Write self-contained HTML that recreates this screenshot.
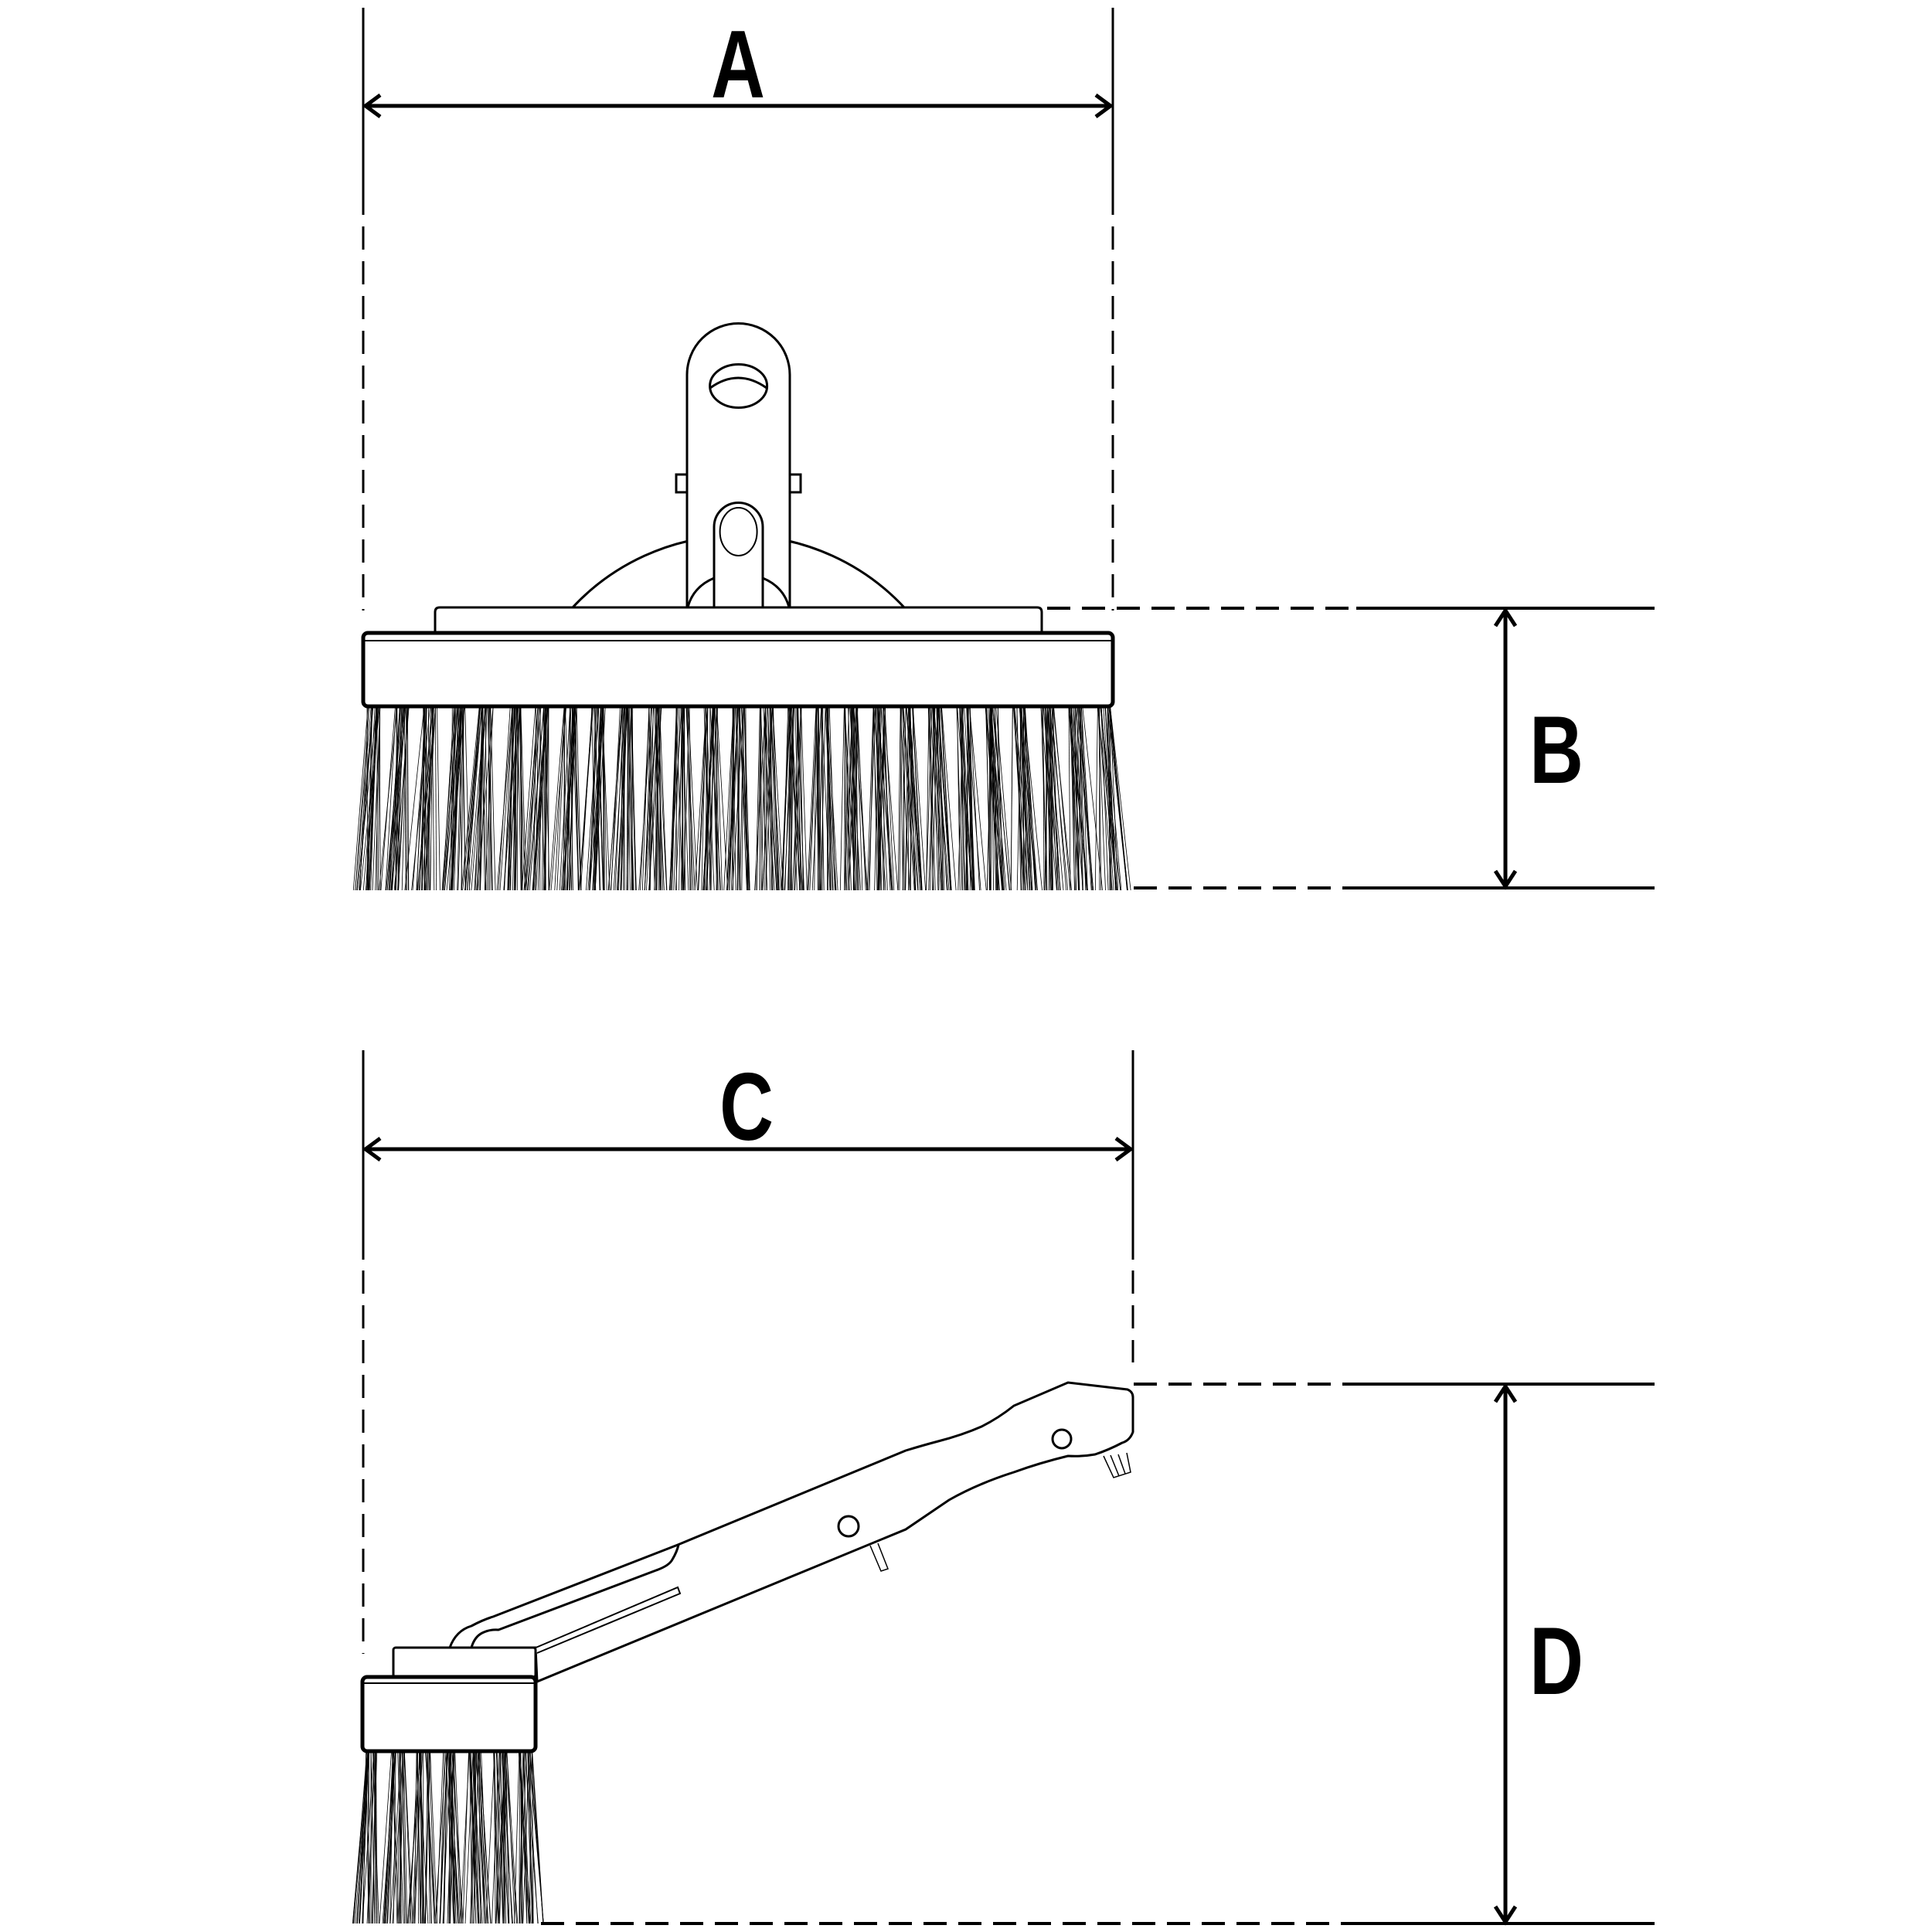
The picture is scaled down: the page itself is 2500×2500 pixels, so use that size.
<!DOCTYPE html>
<html><head><meta charset="utf-8"><style>
html,body{margin:0;padding:0;background:#fff;}
svg{display:block;}
text{font-family:"Liberation Sans",sans-serif;font-weight:bold;font-size:124px;fill:#000;}
</style></head><body>
<svg id="s" width="2500" height="2500" viewBox="0 0 2500 2500" xmlns="http://www.w3.org/2000/svg">
<g fill="none" stroke="#000" stroke-linecap="butt">
<g stroke-width="3">
<line x1="470" y1="10" x2="470" y2="278"/><line x1="470" y1="293" x2="470" y2="790" stroke-dasharray="30 15"/>
<line x1="1440" y1="10" x2="1440" y2="278"/><line x1="1440" y1="293" x2="1440" y2="790" stroke-dasharray="30 15"/>
</g>
<line x1="472" y1="137" x2="1438" y2="137" stroke-width="5"/>
<polyline points="492,123 473,137 492,151" stroke-width="5"/>
<polyline points="1418,123 1437,137 1418,151" stroke-width="5"/>
<line x1="1355" y1="787" x2="1755" y2="787" stroke-width="4" stroke-dasharray="30 15"/>
<line x1="1755" y1="787" x2="2141" y2="787" stroke-width="4"/>
<line x1="1467" y1="1149" x2="1755" y2="1149" stroke-width="4" stroke-dasharray="30 15"/>
<line x1="1755" y1="1149" x2="2141" y2="1149" stroke-width="4"/>
<line x1="1948" y1="790" x2="1948" y2="1146" stroke-width="5"/>
<polyline points="1935,810 1948,790 1961,810" stroke-width="5"/>
<polyline points="1935,1127 1948,1147 1961,1127" stroke-width="5"/>
<g stroke-width="3">
<line x1="470" y1="1359" x2="470" y2="1630"/><line x1="470" y1="1644" x2="470" y2="2140" stroke-dasharray="30 15"/>
<line x1="1466" y1="1359" x2="1466" y2="1630"/><line x1="1466" y1="1644" x2="1466" y2="1763" stroke-dasharray="30 15"/>
</g>
<line x1="472" y1="1487" x2="1464" y2="1487" stroke-width="5"/>
<polyline points="492,1473 473,1487 492,1501" stroke-width="5"/>
<polyline points="1444,1473 1463,1487 1444,1501" stroke-width="5"/>
<line x1="1467" y1="1791" x2="1755" y2="1791" stroke-width="4" stroke-dasharray="30 15"/>
<line x1="1755" y1="1791" x2="2141" y2="1791" stroke-width="4"/>
<line x1="700" y1="2489" x2="1755" y2="2489" stroke-width="4" stroke-dasharray="30 15"/>
<line x1="1755" y1="2489" x2="2141" y2="2489" stroke-width="4"/>
<line x1="1948" y1="1794" x2="1948" y2="2486" stroke-width="5"/>
<polyline points="1935,1814 1948,1794 1961,1814" stroke-width="5"/>
<polyline points="1935,2467 1948,2487 1961,2467" stroke-width="5"/>

<g stroke-width="3" fill="#fff">
<path d="M741,786 A293.5,293.5 0 0 1 1170,786 Z"/>
<path d="M889,794 L889,485 A66.5,66.5 0 0 1 1022,485 L1022,794 Q955,805 889,794 Z"/>
<rect x="875" y="614" width="14" height="23"/><rect x="1022" y="614" width="14" height="23"/>
<path d="M924,793 L924,682 A31.5,31.5 0 0 1 987,682 L987,793"/>
<path d="M889,790 Q895,760 924,748 M987,748 Q1016,760 1022,790" fill="none"/>
<ellipse cx="955.6" cy="499.5" rx="37" ry="28"/>
<path d="M919,502 Q955,476 992,502" fill="none"/>
<ellipse cx="955.6" cy="688" rx="24" ry="31" stroke-width="2"/>
<path d="M563,819 L563,792 Q563,786 569,786 L1342,786 Q1348,786 1348,792 L1348,819"/>
<rect x="470" y="819" width="970" height="95" rx="6" stroke-width="5"/>
<line x1="472" y1="829" x2="1438" y2="829" stroke-width="2"/>
</g>

<g stroke-width="3" fill="#fff">
<path d="M582,2132 Q590,2110 610,2104 Q625,2096 638,2092 L877,1999 L1172,1877 Q1195,1870 1214,1865 Q1245,1857 1270,1846 Q1292,1835 1312,1819 L1382,1789 L1459,1798 Q1466,1801 1466,1808 L1466,1853 Q1462,1864 1452,1867 Q1435,1876 1417,1882 Q1400,1885 1382,1884 Q1345,1893 1312,1905 Q1265,1920 1228,1941 Q1200,1960 1172,1979 L695,2176 L693,2132 Z"/>
<path d="M610,2132 Q614,2118 624,2113 Q634,2108 645,2109 L849,2032 Q866,2026 870,2018 Q876,2008 878,1999" fill="none"/>
<path d="M691,2133 L877,2054 L880,2062 L695,2139" stroke-width="2"/>
<circle cx="1098" cy="1975" r="13"/>
<ellipse cx="1374" cy="1862" rx="12" ry="12"/>
<path d="M1126,2000 L1140,2033 L1149,2030 L1136,1997" stroke-width="1.5"/>
<path d="M1428,1884 L1441,1912 L1463,1905 L1458,1880" stroke-width="1.5"/>
<line x1="1437" y1="1883" x2="1448" y2="1910" stroke-width="1.5"/>
<line x1="1447" y1="1882" x2="1456" y2="1907" stroke-width="1.5"/>
<rect x="509" y="2132" width="184" height="38" rx="3"/>
<rect x="469" y="2170" width="224" height="96" rx="6" stroke-width="5"/>
<line x1="471" y1="2178" x2="691" y2="2178" stroke-width="2"/>
</g>
<g id="br" stroke-width="0.8"></g>
</g>
<text transform="translate(955,126) scale(0.78,1)" text-anchor="middle">A</text>
<text transform="translate(2014,1013) scale(0.78,1)" text-anchor="middle">B</text>
<text transform="translate(966,1475) scale(0.78,1)" text-anchor="middle">C</text>
<text transform="translate(2014,2192) scale(0.78,1)" text-anchor="middle">D</text>
</svg>
<script>
(function(){
var g=document.getElementById('br'),h='';var seed=7;
function r(){seed=(seed*16807)%2147483647;return seed/2147483647;}
function tufts(x0,x1,n,yt,yb,cx,spread){
 for(var i=0;i<n;i++){
  var xc=x0+(x1-x0)*i/(n-1);
  for(var k=0;k<26;k++){
   var xt=xc-9+18*r();
   var xb=cx+(xt-cx)*spread+(r()-0.5)*30;
   h+='<line x1="'+xt.toFixed(1)+'" y1="'+yt+'" x2="'+xb.toFixed(1)+'" y2="'+yb+'"/>';
  }
 }
}
tufts(484,1428,27,914,1152,955,1.025);
tufts(482,680,7,2266,2489,584,1.05);
g.innerHTML=h;
})();
</script>
</body></html>
